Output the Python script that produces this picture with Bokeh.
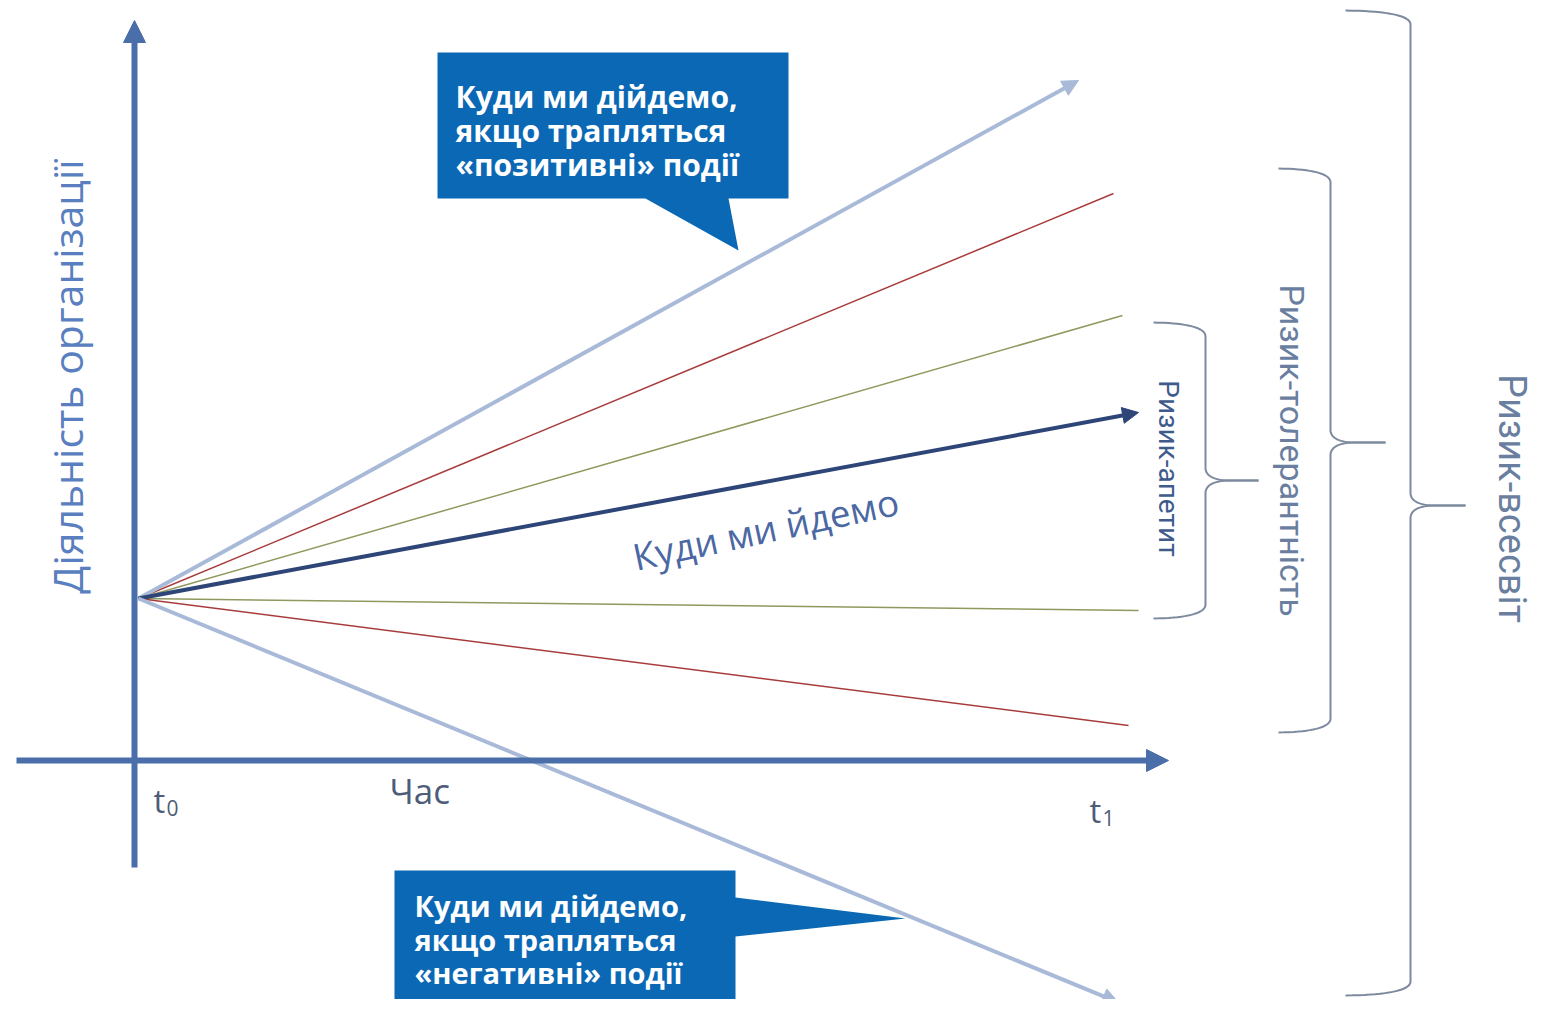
import numpy as np
from bokeh.plotting import figure
from bokeh.models import Range1d, Arrow, NormalHead
from bokeh.core.properties import value
from bokeh.embed import file_html
from bokeh.resources import INLINE

# ---------------- data (schematic coordinates, px-like units) ----------------
origin_x, origin_y = 138, 598            # t0 point where all scenarios start
scenario_names = ["positive", "tol_hi", "app_hi", "target", "app_lo", "tol_lo", "negative"]
scenario_end_x = [1078, 1113, 1122, 1138, 1138, 1128, 1118]
scenario_end_y = [80, 193, 315, 412, 610, 725, 1002]
scenario_colors = ["#a9bad9", "#a83c3c", "#8d9a5e", "#2e4577", "#8d9a5e", "#a83c3c", "#a9bad9"]
scenario_widths = [4, 1.5, 1.5, 4, 1.5, 1.5, 4]
scenario_arrow = [True, False, False, True, False, False, True]

# axes (start -> end)
yaxis_x, yaxis_y0, yaxis_y1 = 134, 867, 20
xaxis_y, xaxis_x0, xaxis_x1 = 760, 16, 1168

# braces: x_open, x_spine, x_tip, y_top, y_mid, y_bot
brace_names = ["Ризик-апетит", "Ризик-толерантність", "Ризик-всесвіт"]
brace_x_open = [1153, 1278, 1345]
brace_x_spine = [1205, 1330, 1410]
brace_x_tip = [1258, 1385, 1465]
brace_y_top = [322, 168, 10]
brace_y_mid = [480, 442, 505]
brace_y_bot = [618, 732, 995]

# labels
brace_label_x = [1168, 1291, 1511]
brace_label_y = [468, 450, 498]
brace_label_size = ["28px", "34px", "38px"]
brace_label_color = ["#3e5b8c", "#6a7f9f", "#6a7f9f"]

callout_top_lines = ["Куди ми дійдемо,", "якщо трапляться", "«позитивні» події"]
callout_bot_lines = ["Куди ми дійдемо,", "якщо трапляться", "«негативні» події"]

W, H = 1536, 999
p = figure(width=W, height=H, output_backend="svg", toolbar_location=None,
           x_range=Range1d(0, W), y_range=Range1d(H, 0),
           x_axis_type=None, y_axis_type=None, min_border=0,
           outline_line_color=None, background_fill_color="white",
           border_fill_color="white")
p.grid.visible = False

# ---------------- callouts ----------------
top_box_x = [437, 788, 788, 728, 738, 645, 437]
top_box_y = [52, 52, 198, 198, 250, 198, 198]
bot_box_x = [394, 735, 735, 905, 735, 735, 394]
bot_box_y = [870, 870, 897, 918, 936, 1020, 1020]
p.patch(top_box_x, top_box_y, fill_color="#0b68b5", line_color=None)
p.patch(bot_box_x, bot_box_y, fill_color="#0b68b5", line_color=None)

p.text(x=[455] * 3, y=[96, 130, 164], text=callout_top_lines,
       text_color="white", text_font=value("Open Sans"), text_font_style="bold",
       text_font_size="30px", text_baseline="middle", text_align="left")
p.text(x=[414] * 3, y=[905, 939, 972], text=callout_bot_lines,
       text_color="white", text_font=value("Open Sans"), text_font_style="bold",
       text_font_size="29px", text_baseline="middle", text_align="left")

# ---------------- scenario lines ----------------
for ex, ey, c, w, arr in zip(scenario_end_x, scenario_end_y, scenario_colors,
                             scenario_widths, scenario_arrow):
    if arr:
        p.add_layout(Arrow(x_start=origin_x, y_start=origin_y, x_end=ex, y_end=ey,
                           line_color=c, line_width=w,
                           end=NormalHead(size=16, fill_color=c, line_color=c)))
    else:
        p.line([origin_x, ex], [origin_y, ey], line_color=c, line_width=w)

# ---------------- axes ----------------
axis_color = "#4a6ea9"
p.add_layout(Arrow(x_start=yaxis_x, y_start=yaxis_y0, x_end=yaxis_x, y_end=yaxis_y1,
                   line_color=axis_color, line_width=6,
                   end=NormalHead(size=22, fill_color=axis_color, line_color=axis_color)))
p.add_layout(Arrow(x_start=xaxis_x0, y_start=xaxis_y, x_end=xaxis_x1, y_end=xaxis_y,
                   line_color=axis_color, line_width=6,
                   end=NormalHead(size=22, fill_color=axis_color, line_color=axis_color)))

# ---------------- braces ----------------
def qbez(p0, p1, p2, n=20):
    t = np.linspace(0, 1, n)
    x = (1 - t) ** 2 * p0[0] + 2 * (1 - t) * t * p1[0] + t ** 2 * p2[0]
    y = (1 - t) ** 2 * p0[1] + 2 * (1 - t) * t * p1[1] + t ** 2 * p2[1]
    return list(x), list(y)

brace_color = "#7d899e"
for xo, xs, xt, yt, ym, yb in zip(brace_x_open, brace_x_spine, brace_x_tip,
                                  brace_y_top, brace_y_mid, brace_y_bot):
    for yend, sgn in ((yt, 1), (yb, -1)):
        hx, hy = qbez((xo, yend), (xs, yend + sgn * 1), (xs, yend + sgn * 14))
        cx, cy = qbez((xs, ym - sgn * 12), (xs + 1, ym - sgn * 1), (xs + 22, ym))
        xs_all = hx + cx + [xt]
        ys_all = hy + cy + [ym]
        p.line(xs_all, ys_all, line_color=brace_color, line_width=2)

for lbl, lx, ly, fs, col in zip(brace_names, brace_label_x, brace_label_y,
                                brace_label_size, brace_label_color):
    p.text(x=[lx], y=[ly], text=[lbl], angle=-np.pi / 2, text_color=col,
           text_font=value("Roboto"), text_font_size=fs,
           text_align="center", text_baseline="middle")

# ---------------- axis labels ----------------
p.text(x=[66], y=[376], text=["Діяльність організації"], angle=np.pi / 2,
       text_color="#5a7fc0", text_font=value("Open Sans"), text_font_size="41px",
       text_align="center", text_baseline="middle")
p.text(x=[389], y=[790], text=["Час"], text_color="#4d5d78",
       text_font=value("Open Sans"), text_font_size="35px",
       text_align="left", text_baseline="middle")
p.text(x=[153], y=[800], text=["t"], text_color="#4d5d78",
       text_font=value("Open Sans"), text_font_size="33px",
       text_align="left", text_baseline="middle")
p.text(x=[166], y=[807], text=["0"], text_color="#4d5d78",
       text_font=value("Open Sans"), text_font_size="21px",
       text_align="left", text_baseline="middle")
p.text(x=[1089], y=[810], text=["t"], text_color="#4d5d78",
       text_font=value("Open Sans"), text_font_size="33px",
       text_align="left", text_baseline="middle")
p.text(x=[1102], y=[817], text=["1"], text_color="#4d5d78",
       text_font=value("Open Sans"), text_font_size="21px",
       text_align="left", text_baseline="middle")

p.text(x=[765], y=[528], text=["Куди ми йдемо"], angle=0.21,
       text_color="#4b68a3", text_font=value("Open Sans"), text_font_size="37px",
       text_align="center", text_baseline="middle")

open("out.html", "w").write(file_html(p, INLINE))
